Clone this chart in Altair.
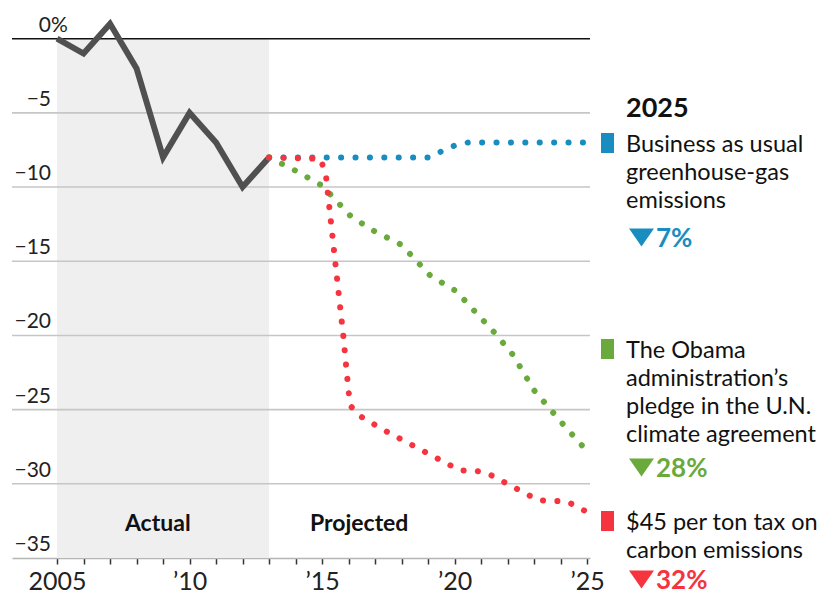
import altair as alt
import pandas as pd

# ---------------- data ----------------
actual_years = [2005, 2006, 2007, 2008, 2009, 2010, 2011, 2012, 2013]
actual_vals = [0, -1, 1, -2, -8, -5, -7, -10, -8]

bau_years = [2013, 2019.05, 2019.5, 2020.0, 2020.5, 2025]
bau_vals = [-8, -8, -7.6, -7.2, -7.0, -7.0]

pledge_years = [2013, 2014, 2015, 2016.1, 2017, 2018, 2019.1, 2020.05, 2021.5, 2022.2, 2023.0, 2024.1, 2025]
pledge_vals = [-8, -8.9, -9.9, -12.0, -13.0, -13.9, -16.0, -17.0, -19.8, -21.3, -23.7, -26.0, -27.8]

tax_years = [2013, 2014.95, 2015.15, 2015.5, 2015.8, 2016.0, 2016.1, 2016.4, 2017.35, 2018.3,
             2019.25, 2020.2, 2020.75, 2021.25, 2022.2, 2023.15, 2024.25, 2025]
tax_vals = [-8, -8.1, -9.3, -15.1, -20.0, -23.8, -24.8, -25.4, -26.4, -27.3,
            -28.2, -29.1, -29.1, -29.3, -30.2, -31.1, -31.2, -31.9]

y_ticks = [0, -5, -10, -15, -20, -25, -30, -35]
y_labels = ["0", "\u22125", "\u221210", "\u221215", "\u221220", "\u221225", "\u221230", "\u221235"]
grid_vals = [-5, -10, -15, -20, -25, -30]
x_ticks = list(range(2005, 2026))

legend_title = "2025"
series_names = ["Business as usual", "Obama pledge", "Carbon tax"]
legend_lines = [
    ["Business as usual", "greenhouse-gas", "emissions"],
    ["The Obama", "administration\u2019s", "pledge in the U.N.", "climate agreement"],
    ["$45 per ton tax on", "carbon emissions"],
]
legend_pcts = ["7%", "28%", "32%"]
phase_labels = ["Actual", "Projected"]

# ---------------- style ----------------
FONT = "Lato"
BLUE = "#1a8dc0"
GREEN = "#6aaa3c"
RED = "#f5343f"
colors = [BLUE, GREEN, RED]

W, H = 578, 549
xscale = alt.Scale(domain=[2003.3, 2025.11], nice=False, zero=False)
yscale = alt.Scale(domain=[-35, 2], nice=False, zero=False)
xaxis = alt.Axis(
    values=x_ticks,
    labelExpr="datum.value == 2005 ? '2005' : (datum.value % 5 == 0 ? '\u2019' + slice(toString(datum.value), 2) : '')",
    grid=False, domainColor="#b5b5b5", domainWidth=1.5,
    tickColor="#333333", tickSize=6, tickWidth=1.5,
    labelFont=FONT, labelFontSize=25, labelColor="#222222", labelPadding=5,
    labelOverlap=False, labelFlush=False, title=None,
)


def X(field):
    return alt.X(field, type="quantitative", scale=xscale, axis=xaxis)


def Y(field):
    return alt.Y(field, type="quantitative", scale=yscale, axis=None)


one = alt.Data(values=[{}])

shade = alt.Chart(one).mark_rect(color="#efefef").encode(
    x=alt.datum(2005, type="quantitative", scale=xscale, axis=xaxis),
    x2=alt.datum(2013),
    y=alt.datum(0, type="quantitative", scale=yscale, axis=None),
    y2=alt.datum(-35),
)

grid = alt.Chart(pd.DataFrame({"v": grid_vals})).mark_rule(color="#c6c6c6", strokeWidth=1.6).encode(
    y=Y("v")
)
zero = alt.Chart(pd.DataFrame({"v": [0]})).mark_rule(color="#111111", strokeWidth=1.6).encode(
    y=Y("v")
)

ylab_df = pd.DataFrame({"v": y_ticks, "lab": y_labels})
ylabels = alt.Chart(ylab_df).mark_text(
    align="right", baseline="alphabetic", dy=-7, font=FONT, fontSize=21, color="#222222"
).encode(x=alt.value(39), y=Y("v"), text="lab:N")
pct_sign = alt.Chart(pd.DataFrame({"v": [0]})).mark_text(
    align="left", baseline="alphabetic", dy=-7, font=FONT, fontSize=21, color="#222222"
).encode(x=alt.value(39), y=Y("v"), text=alt.value("%"))

actual = alt.Chart(pd.DataFrame({"year": actual_years, "v": actual_vals})).mark_line(
    color="#505050", strokeWidth=6, strokeJoin="miter"
).encode(x=X("year"), y=Y("v"))


def dotted(years, vals, color):
    return alt.Chart(pd.DataFrame({"year": years, "v": vals})).mark_line(
        color=color, strokeWidth=6, strokeCap="round", strokeDash=[0.1, 14.3]
    ).encode(x=X("year"), y=Y("v"), order=alt.Order("year:Q"))


bau = dotted(bau_years, bau_vals, BLUE)
pledge = dotted(pledge_years, pledge_vals, GREEN)
tax = dotted(tax_years, tax_vals, RED)

phase_actual = alt.Chart(one).mark_text(
    font=FONT, fontSize=23, fontWeight="bold", color="#111111", align="center", baseline="alphabetic"
).encode(
    x=alt.datum(2008.8, type="quantitative", scale=xscale, axis=xaxis),
    y=alt.datum(-33.2, type="quantitative", scale=yscale, axis=None),
    text=alt.value(phase_labels[0]),
)
phase_proj = alt.Chart(one).mark_text(
    font=FONT, fontSize=23, fontWeight="bold", color="#111111", align="center", baseline="alphabetic"
).encode(
    x=alt.datum(2016.4, type="quantitative", scale=xscale, axis=xaxis),
    y=alt.datum(-33.2, type="quantitative", scale=yscale, axis=None),
    text=alt.value(phase_labels[1]),
)

legend_layers = []
legend_layers.append(
    alt.Chart(one).mark_text(
        font=FONT, fontSize=27, fontWeight="bold", color="#111111", align="left", baseline="alphabetic"
    ).encode(x=alt.value(614), y=alt.value(108), text=alt.value(legend_title))
)
text_y = [143, 349, 521]
pct_y = [238, 468, 580]
for i in range(3):
    ty = text_y[i]
    legend_layers.append(
        alt.Chart(one).mark_rect(color=colors[i]).encode(
            x=alt.value(589), x2=alt.value(602), y=alt.value(ty - 19), y2=alt.value(ty + 1)
        )
    )
    legend_layers.append(
        alt.Chart(one).mark_text(
            font=FONT, fontSize=23.5, color="#111111", align="left", baseline="alphabetic", lineHeight=28
        ).encode(x=alt.value(614), y=alt.value(ty), text=alt.value(legend_lines[i]))
    )
    py = pct_y[i]
    legend_layers.append(
        alt.Chart(one).mark_point(
            shape="M-1,-0.72L1,-0.72L0,0.72Z", filled=True, size=625, opacity=1, color=colors[i], strokeWidth=0
        ).encode(x=alt.value(629.5), y=alt.value(py - 9.5))
    )
    legend_layers.append(
        alt.Chart(one).mark_text(
            font=FONT, fontSize=26, fontWeight="bold", color=colors[i], align="left", baseline="alphabetic"
        ).encode(x=alt.value(644), y=alt.value(py), text=alt.value(legend_pcts[i]))
    )

chart = alt.layer(
    shade, grid, zero, ylabels, pct_sign, actual, bau, pledge, tax, phase_actual, phase_proj, *legend_layers
).properties(
    width=W, height=H,
    padding={"left": 12, "top": 9, "right": 229, "bottom": 39},
    autosize=alt.AutoSizeParams(type="none"),
    background="white",
).configure_view(stroke=None)

chart.save("out.html", embed_options={"renderer": "svg", "actions": False})
